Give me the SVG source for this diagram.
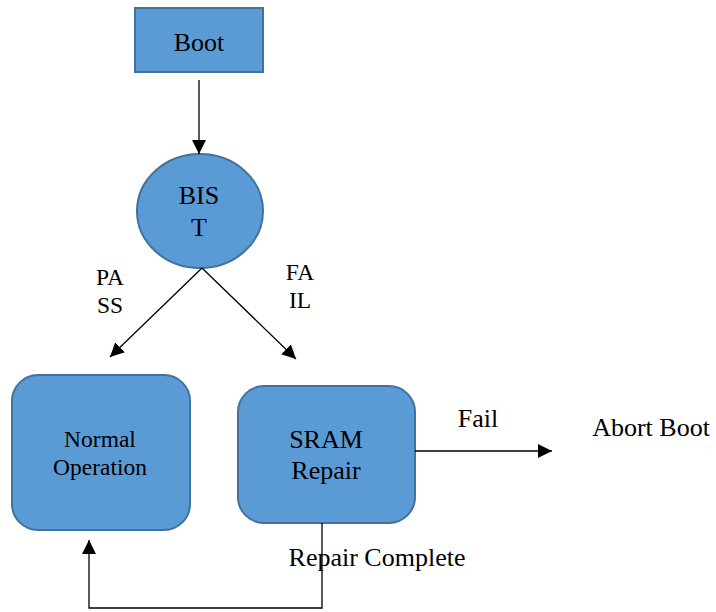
<svg xmlns="http://www.w3.org/2000/svg" width="716" height="612" viewBox="0 0 716 612">
<defs>
<marker id="ah" viewBox="0 0 10 10" refX="10" refY="5" markerWidth="14" markerHeight="14" markerUnits="userSpaceOnUse" orient="auto"><path d="M0,0 L10,5 L0,10 z" fill="#000"/></marker>
<style>
.n{fill:#5B9BD5;stroke:#41719C;stroke-width:2}
.t{font-family:"Liberation Serif","Times New Roman",serif;fill:#000;text-anchor:middle;font-size:26px}
.s{font-size:23.5px}
.c{fill:none;stroke:#000;stroke-width:1.3}
</style>
</defs>
<rect width="716" height="612" fill="#fff"/>
<g id="boot"><rect class="n" x="135" y="8" width="128" height="64"/><text class="t" x="199" y="51">Boot</text></g>
<g id="bist"><ellipse class="n" cx="200" cy="211" rx="63" ry="57"/><text class="t" x="199" y="204">BIS</text><text class="t" x="199" y="236">T</text></g>
<g id="normal"><rect class="n" x="12" y="375" width="178" height="155" rx="26"/><text class="t s" x="100" y="447">Normal</text><text class="t s" x="100" y="475">Operation</text></g>
<g id="sram"><rect class="n" x="238" y="386" width="177" height="137" rx="26"/><text class="t" x="326" y="448">SRAM</text><text class="t" x="326" y="479">Repair</text></g>
<g id="abort"><text class="t" x="651" y="436">Abort Boot</text></g>
<g id="connectors">
<line class="c" x1="199" y1="80" x2="199" y2="154" marker-end="url(#ah)"/>
<line class="c" x1="202" y1="268" x2="110" y2="357" marker-end="url(#ah)"/>
<line class="c" x1="202" y1="268" x2="296" y2="359" marker-end="url(#ah)"/>
<line class="c" x1="415" y1="451" x2="552" y2="451" marker-end="url(#ah)"/>
<path class="c" d="M322,523 V608 H89 V540" marker-end="url(#ah)"/>
<text class="t s" x="110" y="285">PA</text>
<text class="t s" x="110" y="313">SS</text>
<text class="t s" x="300" y="280">FA</text>
<text class="t s" x="300" y="308">IL</text>
<text class="t" x="478" y="427">Fail</text>
<text class="t" x="377" y="566">Repair Complete</text>
</g>
</svg>
